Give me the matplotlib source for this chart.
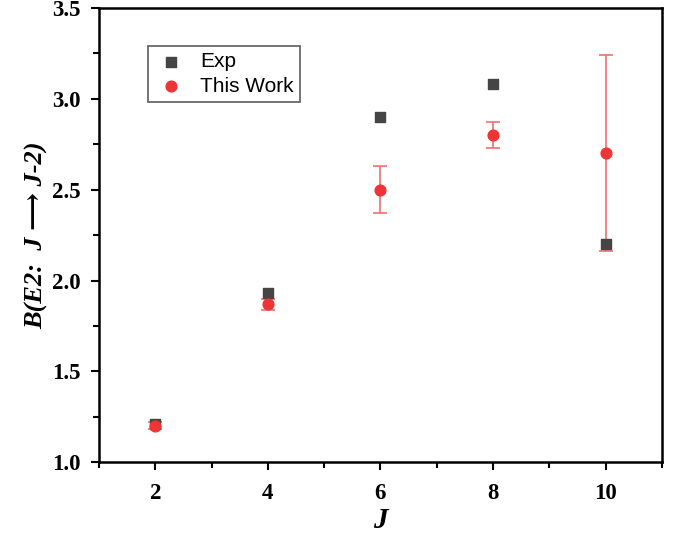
import matplotlib
matplotlib.use("Agg")
import matplotlib.pyplot as plt
from matplotlib.ticker import MultipleLocator

# data
J = [2, 4, 6, 8, 10]
exp_vals = [1.21, 1.93, 2.90, 3.08, 2.20]
work_vals = [1.20, 1.87, 2.50, 2.80, 2.70]
work_err = [0.02, 0.03, 0.13, 0.07, 0.54]
yticks = [1.0, 1.5, 2.0, 2.5, 3.0, 3.5]

serif = ['Liberation Serif', 'DejaVu Serif']

fig = plt.figure(figsize=(6.83, 5.38), dpi=100)
ax = fig.add_axes([0.145, 0.141, 0.824, 0.844])

ax.scatter(J, exp_vals, marker='s', s=50, color='#454545', zorder=3, label='Exp')
ax.errorbar(J, work_vals, yerr=work_err, fmt='none', ecolor='#f07070', elinewidth=1.2,
            capsize=5, capthick=1.2, zorder=2)
ax.scatter(J, work_vals, marker='o', s=60, color='#ee3535', zorder=4, label='This Work')

ax.set_xlim(1, 11)
ax.set_ylim(1.0, 3.5)
ax.set_xticks([2, 4, 6, 8, 10])
ax.xaxis.set_minor_locator(MultipleLocator(1))
ax.set_yticks(yticks)
ax.set_yticklabels(['%.1f' % v for v in yticks])
ax.yaxis.set_minor_locator(MultipleLocator(0.25))
ax.tick_params(which='major', direction='out', length=6, width=1.5)
ax.tick_params(which='minor', direction='out', length=4, width=1.5)
ax.tick_params(axis='x', pad=9)
ax.tick_params(axis='y', pad=7)
for sp in ax.spines.values():
    sp.set_linewidth(1.8)

for lab in ax.get_xticklabels() + ax.get_yticklabels():
    lab.set_family(serif)
    lab.set_fontweight('bold')
    lab.set_fontsize(16.5)

ax.set_xlabel('J', fontsize=21, fontweight='bold', fontstyle='italic',
              family=serif, labelpad=2)
ax.set_ylabel('B(E2:  J \u27f6 J-2)', fontsize=19, fontweight='bold', fontstyle='italic',
              family=serif, labelpad=3)

leg = ax.legend(loc='upper left', bbox_to_anchor=(0.087, 0.916), borderaxespad=0,
                frameon=True, fancybox=False,
                edgecolor='#333333', prop={'family': 'Liberation Sans', 'size': 15},
                handletextpad=0.6, borderpad=0.3, labelspacing=0.25, handlelength=1.6)
leg.get_frame().set_linewidth(1.2)

fig.savefig('out.png', dpi=100)
